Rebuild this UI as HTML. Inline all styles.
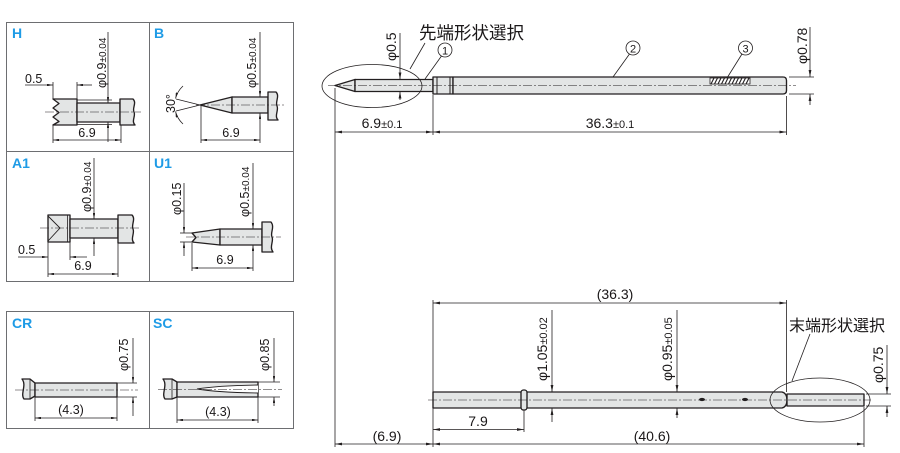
<!DOCTYPE html>
<html><head><meta charset="utf-8"><style>
html,body{margin:0;padding:0;background:#fff;}
svg{display:block;}
text{font-family:"Liberation Sans","Noto Sans CJK JP",sans-serif;fill:#1a1718;}
.lbl{font-weight:bold;font-size:14px;fill:#1e9be6;}
.o{stroke:#231f20;stroke-width:1.35;fill:#e3e5e5;stroke-linejoin:round;}
.d{stroke:#231f20;stroke-width:0.8;fill:none;}
.c{stroke:#231f20;stroke-width:0.6;fill:none;stroke-dasharray:9 2 2 2;}
.bx{stroke:#6d6e71;stroke-width:1;fill:none;}
.s{font-size:12.5px;}
.m{font-size:14px;}
</style></head><body>
<svg width="900" height="453" viewBox="0 0 900 453" xmlns="http://www.w3.org/2000/svg">
<defs>
<marker id="a" viewBox="0 0 10 4" refX="10" refY="2" markerWidth="7" markerHeight="2.8" markerUnits="userSpaceOnUse" orient="auto-start-reverse"><path d="M0,0L10,2L0,4z" fill="#231f20"/></marker>
<marker id="b" viewBox="0 0 10 4" refX="10" refY="2" markerWidth="6" markerHeight="2.4" markerUnits="userSpaceOnUse" orient="auto-start-reverse"><path d="M0,0L10,2L0,4z" fill="#231f20"/></marker>
</defs>

<!-- ===== Left panel boxes ===== -->
<rect class="bx" x="6.5" y="22.5" width="287" height="259"/>
<line class="bx" x1="149.5" y1="22.5" x2="149.5" y2="281.5"/>
<line class="bx" x1="6.5" y1="151.5" x2="293.5" y2="151.5"/>
<rect class="bx" x="6.5" y="311.5" width="287" height="117"/>
<line class="bx" x1="149.5" y1="311.5" x2="149.5" y2="428.5"/>

<!-- ===== H ===== -->
<text class="lbl" x="12" y="38">H</text>
<path class="o" d="M77,99 L53,99 L59,103.5 L53,108 L59,112.5 L53,117 L59,121.5 L53,125 L77,125 Z"/>
<rect class="o" x="77" y="103" width="43" height="19"/>
<path class="o" d="M120,99 L133,99 C137,103 132,108 134,112 C136,116 131,121 135,125 L120,125 Z"/>
<line class="d" x1="77" y1="100" x2="112" y2="100"/>
<line class="d" x1="77" y1="124.5" x2="112" y2="124.5"/>
<line class="c" x1="45" y1="112" x2="141" y2="112"/>
<line class="d" x1="53" y1="82" x2="53" y2="99"/>
<line class="d" x1="77" y1="82" x2="77" y2="99"/>
<line class="d" x1="25" y1="85" x2="53" y2="85" marker-end="url(#b)"/>
<line class="d" x1="92" y1="85" x2="77" y2="85" marker-end="url(#b)"/>
<text class="s" x="25" y="83">0.5</text>
<line class="d" x1="108" y1="32" x2="108" y2="103" marker-end="url(#b)"/>
<line class="d" x1="108" y1="142" x2="108" y2="122" marker-end="url(#b)"/>
<text class="s" transform="translate(106,88) rotate(-90)">φ0.9<tspan font-size="10">±0.04</tspan></text>
<line class="d" x1="53" y1="125" x2="53" y2="143"/>
<line class="d" x1="121" y1="125" x2="121" y2="143"/>
<line class="d" x1="53" y1="140" x2="121" y2="140" marker-start="url(#b)" marker-end="url(#b)"/>
<text class="s" x="87" y="137" text-anchor="middle">6.9</text>

<!-- ===== B ===== -->
<text class="lbl" x="154" y="38">B</text>
<polygon class="o" points="200,105 232,97 232,113"/>
<rect class="o" x="232" y="97" width="36" height="16"/>
<path class="o" d="M268,92 L276,92 C280,96 275,102 277,106 C279,110 274,116 278,120 L268,120 Z"/>
<line class="c" x1="196" y1="105" x2="284" y2="105"/>
<line class="d" x1="200" y1="105" x2="176" y2="99"/>
<line class="d" x1="200" y1="105" x2="176" y2="111"/>
<path class="d" d="M183,86 A26,26 0 0 0 175.5,98.5" marker-end="url(#b)"/>
<path class="d" d="M183,124 A26,26 0 0 1 175.5,111.5" marker-end="url(#b)"/>
<text class="s" transform="translate(175,113) rotate(-90)">30°</text>
<line class="d" x1="260" y1="32" x2="260" y2="97" marker-end="url(#b)"/>
<line class="d" x1="260" y1="143" x2="260" y2="113" marker-end="url(#b)"/>
<text class="s" transform="translate(256,88) rotate(-90)">φ0.5<tspan font-size="10">±0.04</tspan></text>
<line class="d" x1="201" y1="106" x2="201" y2="143"/>
<line class="d" x1="201" y1="140" x2="260" y2="140" marker-start="url(#b)" marker-end="url(#b)"/>
<text class="s" x="231" y="137" text-anchor="middle">6.9</text>

<!-- ===== A1 ===== -->
<text class="lbl" x="12" y="168">A1</text>
<rect class="o" x="48" y="215" width="22" height="27"/>
<line class="d" x1="67.5" y1="215" x2="67.5" y2="242"/>
<polyline class="d" points="48,216 60,228 48,241" style="stroke-width:0.9"/>
<rect class="o" x="70" y="219" width="48" height="19"/>
<path class="o" d="M118,215 L132,215 C136,219 131,225 133,229 C135,233 130,239 134,243 L118,243 Z"/>
<line class="c" x1="40" y1="228" x2="141" y2="228"/>
<line class="d" x1="70" y1="219" x2="97" y2="219"/>
<line class="d" x1="70" y1="238" x2="97" y2="238"/>
<line class="d" x1="94" y1="158" x2="94" y2="219" marker-end="url(#b)"/>
<line class="d" x1="94" y1="256" x2="94" y2="238" marker-end="url(#b)"/>
<text class="s" transform="translate(91,212) rotate(-90)">φ0.9<tspan font-size="10">±0.04</tspan></text>
<line class="d" x1="48" y1="242" x2="48" y2="277"/>
<line class="d" x1="70" y1="242" x2="70" y2="260"/>
<line class="d" x1="18" y1="257" x2="48" y2="257" marker-end="url(#b)"/>
<line class="d" x1="87" y1="257" x2="70" y2="257" marker-end="url(#b)"/>
<text class="s" x="18" y="254">0.5</text>
<line class="d" x1="118" y1="243" x2="118" y2="277"/>
<line class="d" x1="48" y1="274" x2="118" y2="274" marker-start="url(#b)" marker-end="url(#b)"/>
<text class="s" x="83" y="270" text-anchor="middle">6.9</text>

<!-- ===== U1 ===== -->
<text class="lbl" x="154" y="168">U1</text>
<path class="o" d="M192,233 L220,229 L220,245 L192,242 L196,237.5 Z"/>
<rect class="o" x="220" y="229" width="42" height="16"/>
<path class="o" d="M262,222 L271,222 C275,227 270,233 272,237 C274,241 269,247 273,252 L262,252 Z"/>
<line class="c" x1="186" y1="237" x2="281" y2="237"/>
<line class="d" x1="180" y1="233" x2="192" y2="233"/>
<line class="d" x1="180" y1="242" x2="192" y2="242"/>
<line class="d" x1="184" y1="183" x2="184" y2="233" marker-end="url(#b)"/>
<line class="d" x1="184" y1="256" x2="184" y2="242" marker-end="url(#b)"/>
<text class="s" transform="translate(181,215) rotate(-90)">φ0.15</text>
<line class="d" x1="253" y1="163" x2="253" y2="229" marker-end="url(#b)"/>
<line class="d" x1="253" y1="271" x2="253" y2="245" marker-end="url(#b)"/>
<text class="s" transform="translate(249,217) rotate(-90)">φ0.5<tspan font-size="10">±0.04</tspan></text>
<line class="d" x1="192" y1="243" x2="192" y2="271"/>
<line class="d" x1="192" y1="268" x2="253" y2="268" marker-start="url(#b)" marker-end="url(#b)"/>
<text class="s" x="225" y="264" text-anchor="middle">6.9</text>

<!-- ===== CR ===== -->
<text class="lbl" x="12" y="328">CR</text>
<path class="o" d="M22,379 L30,379 L35,383 L35,396 L30,399 L24,399 C20,394 27,385 22,379 Z"/>
<line class="d" x1="30" y1="379" x2="30" y2="399"/>
<rect class="o" x="35" y="383" width="82" height="14"/>
<line class="c" x1="15" y1="390" x2="138" y2="390"/>
<line class="d" x1="117" y1="383" x2="137" y2="383"/>
<line class="d" x1="117" y1="397" x2="137" y2="397"/>
<line class="d" x1="133" y1="338" x2="133" y2="383" marker-end="url(#b)"/>
<line class="d" x1="133" y1="416" x2="133" y2="397" marker-end="url(#b)"/>
<text class="s" transform="translate(128,371) rotate(-90)">φ0.75</text>
<line class="d" x1="35" y1="397" x2="35" y2="421"/>
<line class="d" x1="117" y1="397" x2="117" y2="421"/>
<line class="d" x1="35" y1="418" x2="117" y2="418" marker-start="url(#b)" marker-end="url(#b)"/>
<text class="s" x="71" y="414" text-anchor="middle">(4.3)</text>

<!-- ===== SC ===== -->
<text class="lbl" x="153" y="328">SC</text>
<path class="o" d="M163,379 L172,379 L177,382 L177,397 L172,399 L165,399 C161,394 168,385 163,379 Z"/>
<line class="d" x1="172" y1="379" x2="172" y2="399"/>
<rect class="o" x="177" y="382" width="81" height="15"/>
<path d="M258,385 Q218,385.5 197,389 Q218,392.5 258,393" fill="#fff" stroke="#231f20" stroke-width="0.9"/>
<line class="c" x1="158" y1="389.5" x2="282" y2="389.5"/>
<line class="d" x1="258" y1="382" x2="280" y2="382"/>
<line class="d" x1="258" y1="397" x2="280" y2="397"/>
<line class="d" x1="274" y1="338" x2="274" y2="382" marker-end="url(#b)"/>
<line class="d" x1="274" y1="406" x2="274" y2="397" marker-end="url(#b)"/>
<text class="s" transform="translate(269,371) rotate(-90)">φ0.85</text>
<line class="d" x1="177" y1="397" x2="177" y2="423"/>
<line class="d" x1="258" y1="397" x2="258" y2="423"/>
<line class="d" x1="177" y1="420" x2="258" y2="420" marker-start="url(#b)" marker-end="url(#b)"/>
<text class="s" x="218" y="416" text-anchor="middle">(4.3)</text>

<!-- ===== Right top pin ===== -->
<polygon class="o" points="335,85.5 355,79.5 355,91.5"/>
<rect class="o" x="355" y="79.5" width="78" height="12"/>
<rect class="o" x="433" y="77" width="20" height="17"/>
<line class="d" x1="437" y1="77" x2="437" y2="94" style="stroke-width:1"/>
<line class="d" x1="450" y1="77" x2="450" y2="94" style="stroke-width:1"/>
<path class="o" d="M453,77 L783,77 Q786.5,77 786.5,80.5 L786.5,90.5 Q786.5,94 783,94 L453,94 Z"/>
<rect x="710" y="78" width="40" height="6" fill="#fff" stroke="#231f20" stroke-width="0.8"/>
<path class="d" style="stroke-width:1.1" d="M711,84 L714,78 M714.5,84 L717.5,78 M718,84 L721,78 M721.5,84 L724.5,78 M725,84 L728,78 M728.5,84 L731.5,78 M732,84 L735,78 M735.5,84 L738.5,78 M739,84 L742,78 M742.5,84 L745.5,78 M746,84 L749,78"/>
<line class="c" x1="328" y1="85.5" x2="796" y2="85.5"/>
<ellipse cx="372" cy="86" rx="50" ry="21.5" fill="none" stroke="#231f20" stroke-width="0.8"/>
<text x="419" y="39" style="font-size:17.5px;font-family:'Noto Sans CJK JP','Liberation Sans',sans-serif;">先端形状選択</text>
<line class="d" x1="425" y1="43" x2="410" y2="69"/>
<circle cx="445" cy="50" r="7" fill="#fff" stroke="#231f20" stroke-width="0.8"/>
<text x="445" y="54.5" text-anchor="middle" style="font-size:11px">1</text>
<line class="d" x1="441.5" y1="56" x2="425" y2="79"/>
<circle cx="633" cy="48" r="7" fill="#fff" stroke="#231f20" stroke-width="0.8"/>
<text x="633" y="52.5" text-anchor="middle" style="font-size:11px">2</text>
<line class="d" x1="629.5" y1="54" x2="613" y2="77"/>
<circle cx="745.5" cy="48" r="7" fill="#fff" stroke="#231f20" stroke-width="0.8"/>
<text x="745.5" y="52.5" text-anchor="middle" style="font-size:11px">3</text>
<line class="d" x1="742" y1="54" x2="727" y2="78"/>
<line class="d" x1="400" y1="33" x2="400" y2="79.5" marker-end="url(#a)"/>
<line class="d" x1="400" y1="100" x2="400" y2="91.5" marker-end="url(#a)"/>
<text class="m" transform="translate(396,61) rotate(-90)">φ0.5</text>
<line class="d" x1="789" y1="77" x2="814" y2="77"/>
<line class="d" x1="789" y1="94" x2="814" y2="94"/>
<line class="d" x1="810" y1="27" x2="810" y2="77" marker-end="url(#a)"/>
<line class="d" x1="810" y1="105" x2="810" y2="94" marker-end="url(#a)"/>
<text class="m" transform="translate(807,64) rotate(-90)">φ0.78</text>
<line class="d" x1="335" y1="88" x2="335" y2="447"/>
<line class="d" x1="433" y1="95" x2="433" y2="135"/>
<line class="d" x1="786.5" y1="96" x2="786.5" y2="135"/>
<line class="d" x1="335" y1="132" x2="433" y2="132" marker-start="url(#a)" marker-end="url(#a)"/>
<line class="d" x1="433" y1="132" x2="786.5" y2="132" marker-start="url(#a)" marker-end="url(#a)"/>
<text class="m" x="382" y="128" text-anchor="middle">6.9<tspan font-size="11">±0.1</tspan></text>
<text class="m" x="610" y="128" text-anchor="middle">36.3<tspan font-size="11">±0.1</tspan></text>

<!-- ===== Right bottom pin ===== -->
<path class="o" d="M433,392 L782,392 C786,393 787,396 787,400 C787,404 786,407 782,408 L433,408 Z"/>
<rect class="o" x="787" y="394" width="77" height="12"/>
<rect class="o" x="521" y="390" width="6" height="20" rx="2.5"/>
<ellipse cx="702" cy="399.5" rx="3" ry="1.6" fill="#231f20"/>
<ellipse cx="745" cy="399.5" rx="3" ry="1.6" fill="#231f20"/>
<line class="c" x1="428" y1="400" x2="871" y2="400"/>
<ellipse cx="820" cy="400" rx="50" ry="22" fill="none" stroke="#231f20" stroke-width="0.8"/>
<text x="789" y="331" style="font-size:16px;font-family:'Noto Sans CJK JP','Liberation Sans',sans-serif;">末端形状選択</text>
<line class="d" x1="810" y1="334" x2="792" y2="381"/>
<line class="d" x1="866" y1="394" x2="891" y2="394"/>
<line class="d" x1="866" y1="406" x2="891" y2="406"/>
<line class="d" x1="887" y1="345" x2="887" y2="394" marker-end="url(#a)"/>
<line class="d" x1="887" y1="417" x2="887" y2="406" marker-end="url(#a)"/>
<text class="m" transform="translate(883,383) rotate(-90)">φ0.75</text>
<line class="d" x1="528" y1="392" x2="555" y2="392"/>
<line class="d" x1="528" y1="408" x2="555" y2="408"/>
<line class="d" x1="552" y1="310" x2="552" y2="392" marker-end="url(#a)"/>
<line class="d" x1="552" y1="422" x2="552" y2="408" marker-end="url(#a)"/>
<text class="m" transform="translate(547,381) rotate(-90)">φ1.05<tspan font-size="11">±0.02</tspan></text>
<line class="d" x1="677" y1="310" x2="677" y2="392" marker-end="url(#a)"/>
<line class="d" x1="677" y1="418" x2="677" y2="408" marker-end="url(#a)"/>
<text class="m" transform="translate(672,381) rotate(-90)">φ0.95<tspan font-size="11">±0.05</tspan></text>
<line class="d" x1="433" y1="300" x2="433" y2="447"/>
<line class="d" x1="786.5" y1="300" x2="786.5" y2="392"/>
<line class="d" x1="433" y1="303" x2="786.5" y2="303" marker-start="url(#a)" marker-end="url(#a)"/>
<text class="m" x="615" y="299" text-anchor="middle">(36.3)</text>
<line class="d" x1="524" y1="410" x2="524" y2="432"/>
<line class="d" x1="433" y1="429.5" x2="524" y2="429.5" marker-start="url(#a)" marker-end="url(#a)"/>
<text class="m" x="478" y="426" text-anchor="middle">7.9</text>
<line class="d" x1="864" y1="407" x2="864" y2="447"/>
<line class="d" x1="335" y1="444" x2="433" y2="444" marker-start="url(#a)" marker-end="url(#a)"/>
<line class="d" x1="433" y1="444" x2="864" y2="444" marker-start="url(#a)" marker-end="url(#a)"/>
<text class="m" x="387" y="441" text-anchor="middle">(6.9)</text>
<text class="m" x="652" y="441" text-anchor="middle">(40.6)</text>
</svg>
</body></html>
